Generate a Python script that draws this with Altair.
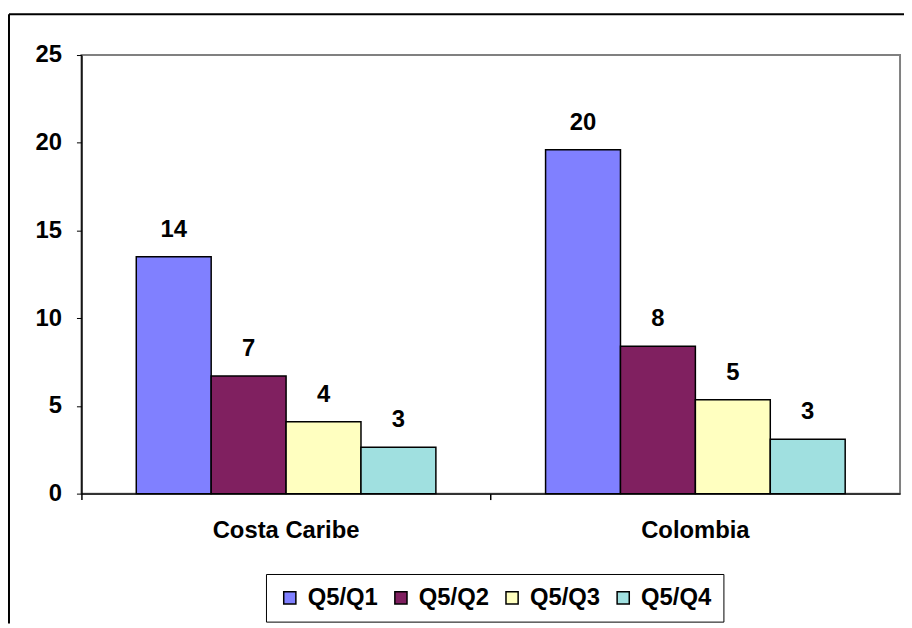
import altair as alt
import pandas as pd

regions = ["Costa Caribe", "Colombia"]
series = ["Q5/Q1", "Q5/Q2", "Q5/Q3", "Q5/Q4"]
costa_caribe = [13.5, 6.7, 4.1, 2.65]
colombia = [19.6, 8.4, 5.35, 3.1]
costa_labels = ["14", "7", "4", "3"]
colombia_labels = ["20", "8", "5", "3"]
colors = ["#8080FF", "#802060", "#FFFFC0", "#A0E0E0"]
y_ticks = [0, 5, 10, 15, 20, 25]

rows = []
for s, v, l in zip(series, costa_caribe, costa_labels):
    rows.append({"region": regions[0], "series": s, "value": v, "label": l})
for s, v, l in zip(series, colombia, colombia_labels):
    rows.append({"region": regions[1], "series": s, "value": v, "label": l})
df = pd.DataFrame(rows)

FONT = "Liberation Sans"
FS = 24

xscale = alt.Scale(paddingInner=0.268, paddingOuter=0.134)
yscale = alt.Scale(domain=[0, 25], nice=False)
yaxis = alt.Axis(values=y_ticks, grid=False, tickSize=5, tickColor="black",
                 domainColor="black", domainWidth=1.5, labelPadding=15,
                 labelFontSize=FS, labelFont=FONT, labelFontWeight="bold",
                 labelColor="black")

bars = alt.Chart(df).mark_bar(stroke="black", strokeWidth=1.5).encode(
    x=alt.X("region:N", sort=regions, scale=xscale, title=None,
            axis=alt.Axis(orient="bottom", labelAngle=0, ticks=False, labelPadding=25,
                          labelFontSize=FS, labelFont=FONT, labelFontWeight="bold",
                          labelColor="black", domainColor="#333333", domainWidth=2)),
    xOffset=alt.XOffset("series:N", sort=series),
    y=alt.Y("value:Q", scale=yscale, title=None, axis=yaxis),
    color=alt.Color("series:N", sort=series,
                    scale=alt.Scale(domain=series, range=colors),
                    legend=alt.Legend(title=None, orient="none", legendX=186, legendY=523,
                                      direction="horizontal", symbolType="square",
                                      symbolSize=150, symbolStrokeColor="black",
                                      symbolStrokeWidth=1.5, labelFontSize=FS,
                                      labelFont=FONT, labelFontWeight="bold",
                                      labelColor="black", strokeColor="black",
                                      padding=12, columnPadding=11, labelOffset=6,
                                      fillColor="white")),
)

texts = alt.Chart(df).mark_text(baseline="alphabetic", dy=-20, fontSize=FS,
                                font=FONT, fontWeight="bold", color="black").encode(
    x=alt.X("region:N", sort=regions, scale=xscale, title=None,
            axis=alt.Axis(orient="bottom", labels=False, domain=False, ticks=True,
                          tickSize=6, tickColor="black", tickWidth=1.5,
                          bandPosition=-0.183)),
    xOffset=alt.XOffset("series:N", sort=series),
    y=alt.Y("value:Q", scale=yscale, title=None, axis=yaxis),
    text="label:N",
)

one = pd.DataFrame({"a": [0]})
left_edge = alt.Chart(one).mark_rule(color="black", strokeWidth=2).encode(
    x=alt.value(-73), y=alt.value(-41), y2=alt.value(573))
top_edge = alt.Chart(one).mark_rule(color="black", strokeWidth=2).encode(
    x=alt.value(-73), x2=alt.value(829), y=alt.value(-41))

chart = alt.layer(bars, texts, left_edge, top_edge).resolve_axis(x="independent").properties(
    width=825, height=442,
    padding={"left": 74, "top": 45, "right": 4, "bottom": 131},
    autosize=alt.AutoSizeParams(type="none"),
    background="white",
).configure_view(stroke="#808080", strokeWidth=2)

chart.save("out.html", embed_options={"renderer": "svg", "actions": False})
